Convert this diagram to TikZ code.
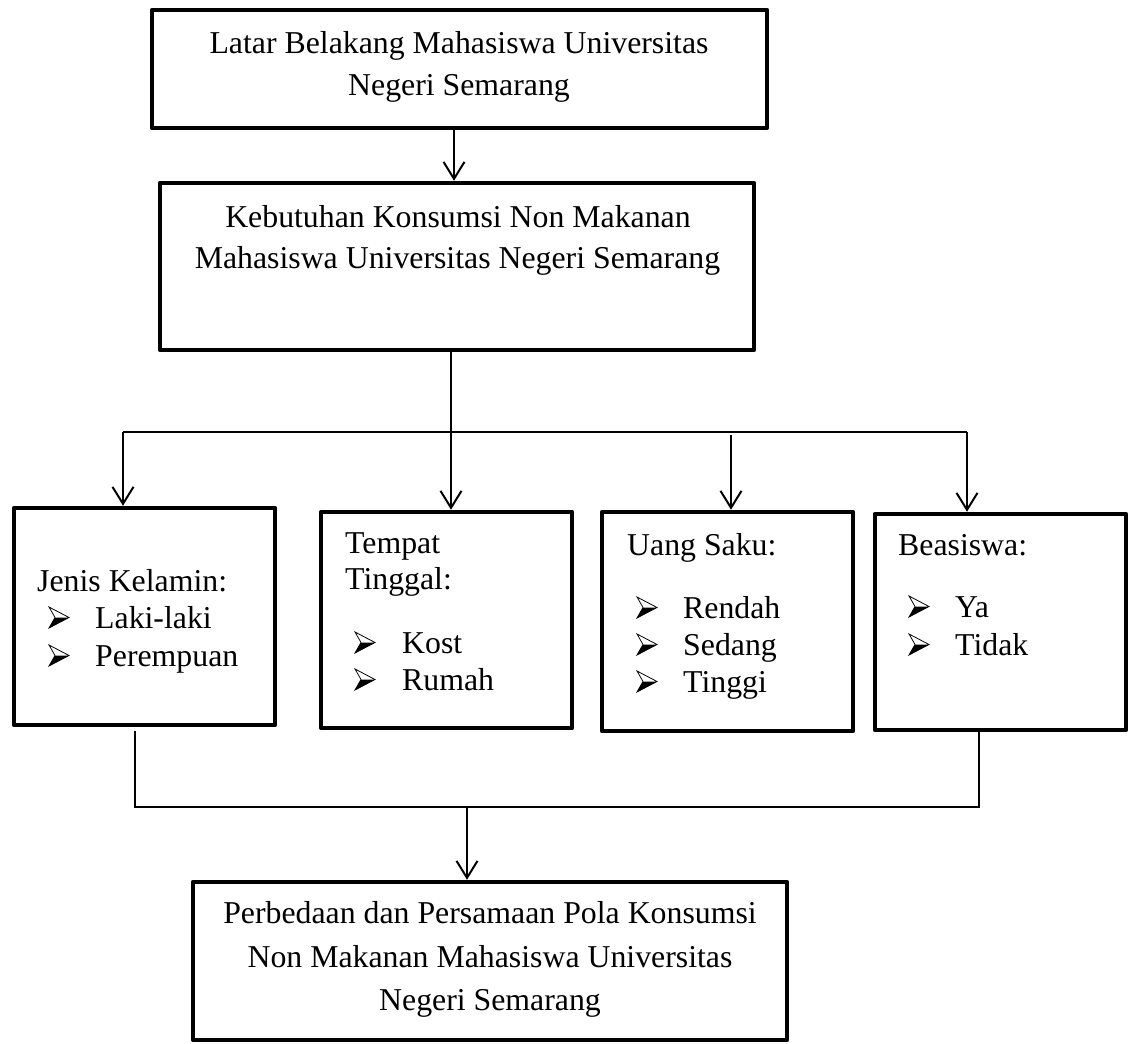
\documentclass[tikz,border=0pt]{standalone}
\usepackage{fontspec}
\setmainfont{Liberation Serif}
\usetikzlibrary{arrows.meta}
\tikzset{
  box/.style={draw, line width=4.5pt, line join=round, inner sep=0pt, fill=white},
  txt/.style={inner sep=0pt, font=\fontsize{31.8}{38}\selectfont},
  conn/.style={line width=2pt},
  arr/.style={line width=2pt, -{Straight Barb[length=17pt,width=21pt,line width=2pt]}},
  bul/.pic={
    \fill[black] (0,0) -- (20,-10.5) -- (6,-10.5) -- cycle;
    \draw[line width=0.8pt, line join=miter] (0,-21) -- (20,-10.5) -- (0,0) -- (6,-10.5) -- cycle;
  }
}
\begin{document}
\begin{tikzpicture}[x=1pt, y=-1pt]
\useasboundingbox (0,0) rectangle (1133,1044);
% boxes
\node[box, minimum width=615pt, minimum height=118pt] (b1) at (459.5,69) {};
\node[box, minimum width=594pt, minimum height=167pt] (b2) at (457,266.5) {};
\node[box, minimum width=261pt, minimum height=217pt] (jk) at (144.5,616.5) {};
\node[box, minimum width=251pt, minimum height=216pt] (tt) at (446.5,620) {};
\node[box, minimum width=251pt, minimum height=219pt] (us) at (727.5,621.5) {};
\node[box, minimum width=251pt, minimum height=216pt] (bs) at (1000.5,622) {};
\node[box, minimum width=594pt, minimum height=158pt] (pb) at (490,961) {};
% texts
\node[txt, anchor=base] (t1a) at (459,53) {Latar Belakang Mahasiswa Universitas};
\node[txt, anchor=base] (t1b) at (459,95) {Negeri Semarang};
\node[txt, anchor=base] (t2a) at (458,227) {Kebutuhan Konsumsi Non Makanan};
\node[txt, anchor=base] (t2b) at (457.5,268) {Mahasiswa Universitas Negeri Semarang};
\node[txt, anchor=base west] (jkh) at (37,591) {Jenis Kelamin:};
\node[txt, anchor=base west] (jk1) at (95,628) {Laki-laki};
\node[txt, anchor=base west] (jk2) at (95,666) {Perempuan};
\pic at (49,628) {bul};
\pic at (49,666) {bul};
\node[txt, anchor=base west] (tth) at (345,553) {Tempat};
\node[txt, anchor=base west] (tth2) at (345,589) {Tinggal:};
\node[txt, anchor=base west] (tt1) at (402,653) {Kost};
\node[txt, anchor=base west] (tt2) at (402,690) {Rumah};
\pic at (355,653) {bul};
\pic at (355,690) {bul};
\node[txt, anchor=base west] (ush) at (627,555) {Uang Saku:};
\node[txt, anchor=base west] (us1) at (683,618) {Rendah};
\node[txt, anchor=base west] (us2) at (683,655) {Sedang};
\node[txt, anchor=base west] (us3) at (683,692) {Tinggi};
\pic at (637,618) {bul};
\pic at (637,655) {bul};
\pic at (637,692) {bul};
\node[txt, anchor=base west] (bsh) at (898,555) {Beasiswa:};
\node[txt, anchor=base west] (bs1) at (955,617) {Ya};
\node[txt, anchor=base west] (bs2) at (955,655) {Tidak};
\pic at (909,617) {bul};
\pic at (909,655) {bul};
\node[txt, anchor=base] (p1) at (490,923) {Perbedaan dan Persamaan Pola Konsumsi};
\node[txt, anchor=base] (p2) at (490,967) {Non Makanan Mahasiswa Universitas};
\node[txt, anchor=base] (p3) at (490,1010) {Negeri Semarang};
% connectors
\coordinate (xa) at (454,0);
\draw[arr] (xa |- b1.south) -- (xa |- b2.north);
\coordinate (xb) at (451,0);
\draw[arr] (xb |- b2.south) -- (xb |- tt.north);
\coordinate (hl) at (123,432);
\coordinate (hr) at (967,432);
\draw[conn] (hl) -- (hr);
\draw[arr] (hl) -- (hl |- jk.north);
\coordinate (h3) at (731,435);
\draw[arr] (h3) -- (h3 |- us.north);
\draw[arr] (hr) -- (hr |- bs.north);
\coordinate (bl) at (135,807);
\coordinate (br) at (979,807);
\coordinate (bl0) at (135,731);
\draw[conn] (bl0) -- (bl) -- (br) -- (br |- bs.south);
\coordinate (bm) at (467,807);
\draw[arr] (bm) -- (bm |- pb.north);
\end{tikzpicture}
\end{document}
